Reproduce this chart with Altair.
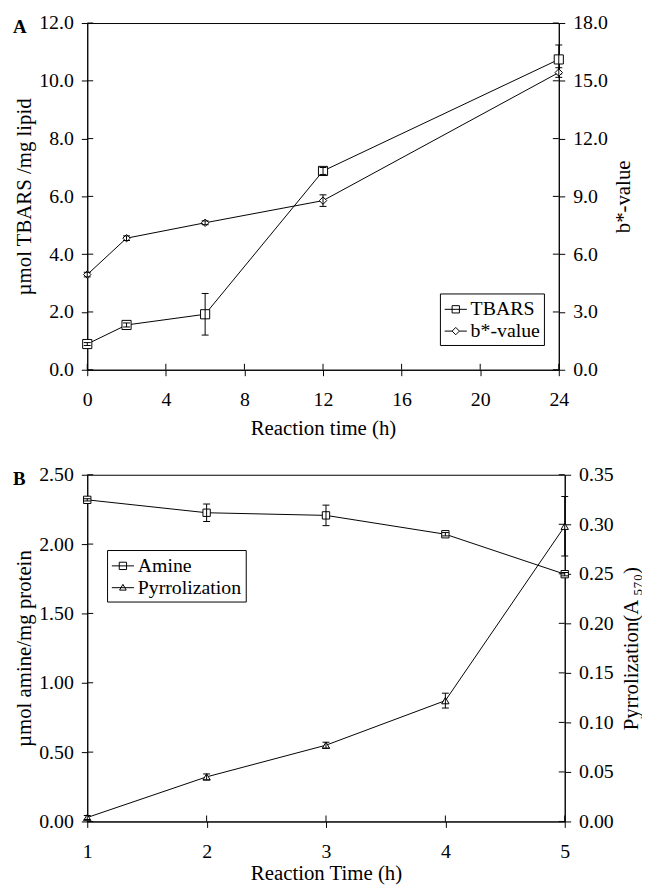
import altair as alt
import pandas as pd

FONT = "Liberation Serif"

# ---------------- data ----------------
panel_labels = ["A", "B"]

# Panel A
time_a = [0, 2, 6, 12, 24]
tbars = [0.89, 1.55, 1.92, 6.88, 10.74]
tbars_err = [0.05, 0.07, 0.72, 0.12, 0.50]
bstar = [4.94, 6.83, 7.63, 8.78, 15.43]
bstar_err = [0.12, 0.12, 0.10, 0.30, 0.25]
legend_a = ["TBARS", "b*-value"]
xticks_a = [0, 4, 8, 12, 16, 20, 24]
yticks_a_left = [0, 2, 4, 6, 8, 10, 12]
yticks_a_right = [0, 3, 6, 9, 12, 15, 18]

# Panel B
time_b = [1, 2, 3, 4, 5]
amine = [2.319, 2.226, 2.207, 2.071, 1.783]
amine_err = [0.008, 0.063, 0.074, 0.012, 0.012]
pyrrol = [0.004, 0.045, 0.077, 0.122, 0.298]
pyrrol_err = [0.002, 0.003, 0.003, 0.0075, 0.030]
legend_b = ["Amine", "Pyrrolization"]
xticks_b = [1, 2, 3, 4, 5]
yticks_b_left = [0, 0.5, 1.0, 1.5, 2.0, 2.5]
yticks_b_right = [0, 0.05, 0.10, 0.15, 0.20, 0.25, 0.30, 0.35]

# legend symbol paths (line + marker)
SYM_SQUARE = "M-1,0H1M-0.33,-0.33H0.33V0.33H-0.33Z"
SYM_DIAMOND = "M-1,0H-0.33M0.33,0H1M-0.33,0L0,-0.33L0.33,0L0,0.33Z"
SYM_TRI = "M-1,0H1M-0.3,0.22L0,-0.3L0.3,0.22Z"

TICK = 6


def frame(t, v, e):
    return pd.DataFrame({"t": t, "v": v,
                         "lo": [a - b for a, b in zip(v, e)],
                         "hi": [a + b for a, b in zip(v, e)]})


def series(df, xenc, yscale, yaxis, shape, size, cap):
    base = alt.Chart(df)
    y = alt.Y("v:Q", scale=yscale, axis=yaxis)
    line = base.mark_line(color="black", strokeWidth=1).encode(x=xenc, y=y)
    pts = base.mark_point(shape=shape, size=size, filled=True, fill="white",
                          stroke="black", strokeWidth=1, opacity=1).encode(x=xenc, y=y)
    rule = base.mark_rule(color="black", strokeWidth=1).encode(
        x=xenc, y=alt.Y("lo:Q", scale=yscale, axis=yaxis), y2="hi:Q")
    cap_lo = base.mark_tick(orient="horizontal", size=cap, thickness=1, color="black",
                            opacity=1).encode(x=xenc, y=alt.Y("lo:Q", scale=yscale, axis=yaxis))
    cap_hi = base.mark_tick(orient="horizontal", size=cap, thickness=1, color="black",
                            opacity=1).encode(x=xenc, y=alt.Y("hi:Q", scale=yscale, axis=yaxis))
    return [line, pts, rule, cap_lo, cap_hi]


def panel(letter, t, s1, e1, s2, e2, names, paths, shapes, sizes, caps,
          xdom, xticks, xtitle, xtpad,
          ldom, lticks, lfmt, ltitle,
          rdom, rticks, rfmt, rtitle, rpad,
          W, H, legx, legy, letter_x):
    xscale = alt.Scale(domain=xdom, nice=False, zero=False)
    xaxis = alt.Axis(values=xticks, format="d", title=xtitle, tickSize=TICK,
                     labelPadding=14, titlePadding=xtpad, labelFlush=False)
    xenc = alt.X("t:Q", scale=xscale, axis=xaxis)

    lscale = alt.Scale(domain=ldom, nice=False, zero=False)
    laxis = alt.Axis(values=lticks, format=lfmt, title=ltitle, tickSize=TICK,
                     labelPadding=8, titlePadding=4, labelFlush=False)
    rscale = alt.Scale(domain=rdom, nice=False, zero=False)
    raxis = alt.Axis(values=rticks, format=rfmt, title=rtitle, tickSize=TICK,
                     labelPadding=8, titlePadding=rpad, labelFlush=False,
                     titleAngle=270, titleBaseline="top", orient="right")

    left_layers = series(frame(t, s1, e1), xenc, lscale, laxis, shapes[0], sizes[0], caps[0])
    right_layers = series(frame(t, s2, e2), xenc, rscale, raxis, shapes[1], sizes[1], caps[1])

    # inward halves of the crossing ticks
    xin = alt.Chart(pd.DataFrame({"t": xticks})).mark_rule(color="black").encode(
        x=xenc, y=alt.value(H), y2=alt.value(H - TICK))
    lin = alt.Chart(pd.DataFrame({"v": lticks})).mark_rule(color="black").encode(
        y=alt.Y("v:Q", scale=lscale, axis=laxis), x=alt.value(0), x2=alt.value(TICK))
    rin = alt.Chart(pd.DataFrame({"v": rticks})).mark_rule(color="black").encode(
        y=alt.Y("v:Q", scale=rscale, axis=raxis), x=alt.value(W - TICK), x2=alt.value(W))

    legend = alt.Chart(pd.DataFrame({"series": names})).mark_point(
        opacity=0, color="black").encode(
        x=alt.value(W / 2), y=alt.value(H / 2),
        shape=alt.Shape("series:N", scale=alt.Scale(domain=names, range=paths),
                        legend=alt.Legend(title=None, orient="none", legendX=legx, legendY=legy,
                                          strokeColor="black", fillColor="white", padding=4,
                                          symbolSize=500, symbolStrokeWidth=1,
                                          symbolStrokeColor="black", symbolFillColor="white",
                                          symbolOpacity=1, labelFont=FONT, labelFontSize=20,
                                          labelColor="black", labelOffset=3, rowPadding=0,
                                          cornerRadius=0)))

    letter_mark = alt.Chart(pd.DataFrame({"lab": [letter]})).mark_text(
        font=FONT, fontSize=19, fontWeight="bold", color="black", align="left",
        baseline="alphabetic").encode(text="lab:N", x=alt.value(letter_x), y=alt.value(10))

    left = alt.layer(*left_layers, xin, lin, legend, letter_mark)
    right = alt.layer(*right_layers, rin)
    return alt.layer(left, right).resolve_scale(y="independent").properties(width=W, height=H)


panel_a = panel(panel_labels[0], time_a, tbars, tbars_err, bstar, bstar_err, legend_a,
                [SYM_SQUARE, SYM_DIAMOND], ["square", "diamond"], [85, 56], [7, 7],
                [0, 24], xticks_a, "Reaction time (h)", 8,
                [0, 12], yticks_a_left, ".1f", "µmol TBARS /mg lipid",
                [0, 18], yticks_a_right, ".1f", "b*-value", 5,
                476, 350, 356, 273, -75)

panel_b = panel(panel_labels[1], time_b, amine, amine_err, pyrrol, pyrrol_err, legend_b,
                [SYM_SQUARE, SYM_TRI], ["square", "triangle-up"], [55, 55], [7, 7],
                [1, 5], xticks_b, "Reaction Time (h)", 2,
                [0, 2.5], yticks_b_left, ".2f", "µmol amine/mg protein",
                [0, 0.35], yticks_b_right, ".2f", "Pyrrolization(A ₅₇₀)", 7,
                482, 350, 20, 76, -75)

chart = alt.vconcat(panel_a, panel_b, spacing=25).resolve_scale(
    shape="independent").resolve_legend(shape="independent").properties(
    padding={"left": 4, "top": 0, "right": 0, "bottom": -1}
).configure_axis(
    labelFont=FONT, labelFontSize=20, labelColor="black",
    titleFont=FONT, titleFontSize=21, titleFontWeight="normal", titleColor="black",
    domainColor="black", domainWidth=1, tickColor="black", tickWidth=1, grid=False,
).configure_view(stroke="black", strokeWidth=1)

chart.save("out.html", embed_options={"renderer": "svg", "actions": False})
